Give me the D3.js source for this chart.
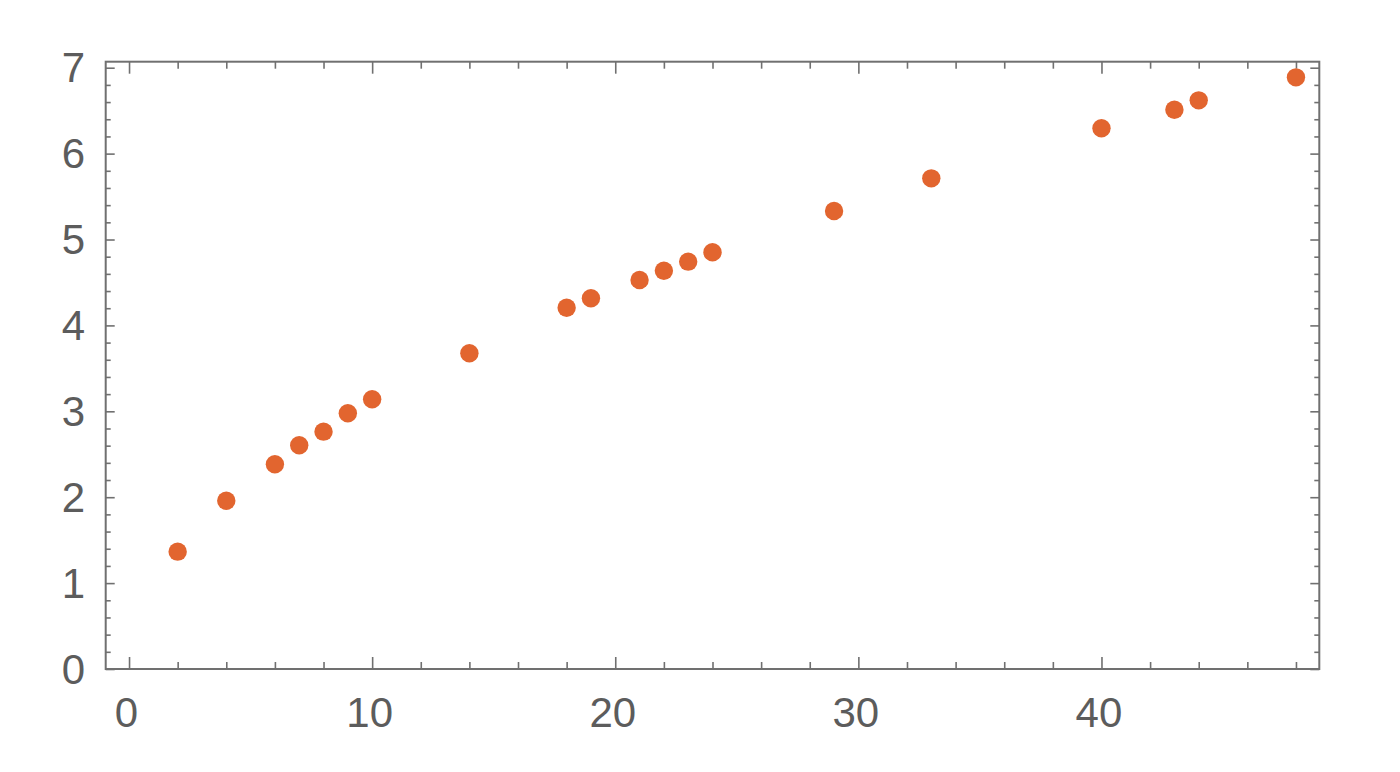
<!DOCTYPE html>
<html>
<head>
<meta charset="utf-8">
<script src="https://cdn.jsdelivr.net/npm/d3@7"></script>
<style>
html,body{margin:0;padding:0;background:#fff;}
svg{display:block;}
</style>
</head>
<body>
<svg id="chart" width="1400" height="772"></svg>
<script>
// data
const xValues = [2, 4, 6, 7, 8, 9, 10, 14, 18, 19, 21, 22, 23, 24, 29, 33, 40, 43, 44, 48];
const yValues = [1.366, 1.959, 2.383, 2.604, 2.763, 2.977, 3.140, 3.675, 4.206, 4.316, 4.529, 4.637, 4.742, 4.851, 5.332, 5.712, 6.295, 6.511, 6.620, 6.888];
const xTickLabels = [0, 10, 20, 30, 40];
const yTickLabels = [0, 1, 2, 3, 4, 5, 6, 7];
const xDomain = [-0.96, 48.96];
const yDomain = [0, 7.07];

(function () {
const svg = d3.select("#chart");
const pLeft = 105.7, pRight = 1319.3, pTop = 61.7, pBottom = 669;
const x = d3.scaleLinear().domain(xDomain).range([pLeft, pRight]);
const y = d3.scaleLinear().domain(yDomain).range([pBottom, pTop]);

const frameColor = "#707070";
const textColor = "#5c5c5c";
const font = "'Liberation Sans', Arial, sans-serif";

const xMinor = d3.range(0, 49, 2).filter(v => v % 10 !== 0);
const yMinor = d3.range(0, 7.01, 0.2).map(v => +v.toFixed(1)).filter(v => Math.abs(v - Math.round(v)) > 1e-6);

function style(g) {
  g.select(".domain").remove();
  g.selectAll(".tick line").attr("stroke", frameColor).attr("stroke-width", 1.6);
}

// bottom axis majors with labels
const gb = svg.append("g").attr("transform", `translate(0,${pBottom})`)
  .call(d3.axisBottom(x).tickValues(xTickLabels).tickSize(-12).tickPadding(0).tickFormat(d3.format("d")));
style(gb);
gb.selectAll(".tick text").attr("y", 58).attr("dy", null).attr("dx", -3)
  .attr("fill", textColor).attr("font-family", font).attr("font-size", 42);
svg.append("g").attr("transform", `translate(0,${pBottom})`)
  .call(d3.axisBottom(x).tickValues(xMinor).tickSize(-7).tickFormat("")).call(style);

// top axis
svg.append("g").attr("transform", `translate(0,${pTop})`)
  .call(d3.axisTop(x).tickValues(xTickLabels).tickSize(-12).tickFormat("")).call(style);
svg.append("g").attr("transform", `translate(0,${pTop})`)
  .call(d3.axisTop(x).tickValues(xMinor).tickSize(-7).tickFormat("")).call(style);

// left axis
const gl = svg.append("g").attr("transform", `translate(${pLeft},0)`)
  .call(d3.axisLeft(y).tickValues(yTickLabels).tickSize(-9).tickPadding(0).tickFormat(d3.format("d")));
style(gl);
gl.selectAll(".tick text").attr("x", -20.7).attr("dy", "14px")
  .attr("fill", textColor).attr("font-family", font).attr("font-size", 42);
svg.append("g").attr("transform", `translate(${pLeft},0)`)
  .call(d3.axisLeft(y).tickValues(yMinor).tickSize(-5).tickFormat("")).call(style);

// right axis
svg.append("g").attr("transform", `translate(${pRight},0)`)
  .call(d3.axisRight(y).tickValues(yTickLabels).tickSize(-9).tickFormat("")).call(style);
svg.append("g").attr("transform", `translate(${pRight},0)`)
  .call(d3.axisRight(y).tickValues(yMinor).tickSize(-5).tickFormat("")).call(style);

// frame
svg.append("rect")
  .attr("x", x(xDomain[0])).attr("y", y(yDomain[1]))
  .attr("width", x(xDomain[1]) - x(xDomain[0]))
  .attr("height", y(yDomain[0]) - y(yDomain[1]))
  .attr("fill", "none").attr("stroke", frameColor).attr("stroke-width", 2);

// points
const pts = xValues.map((v, i) => ({x: v, y: yValues[i]}));
svg.append("g").selectAll("circle").data(pts).join("circle")
  .attr("cx", d => x(d.x)).attr("cy", d => y(d.y)).attr("r", 9.2)
  .attr("fill", "#e2652f");
})();
</script>
</body>
</html>
